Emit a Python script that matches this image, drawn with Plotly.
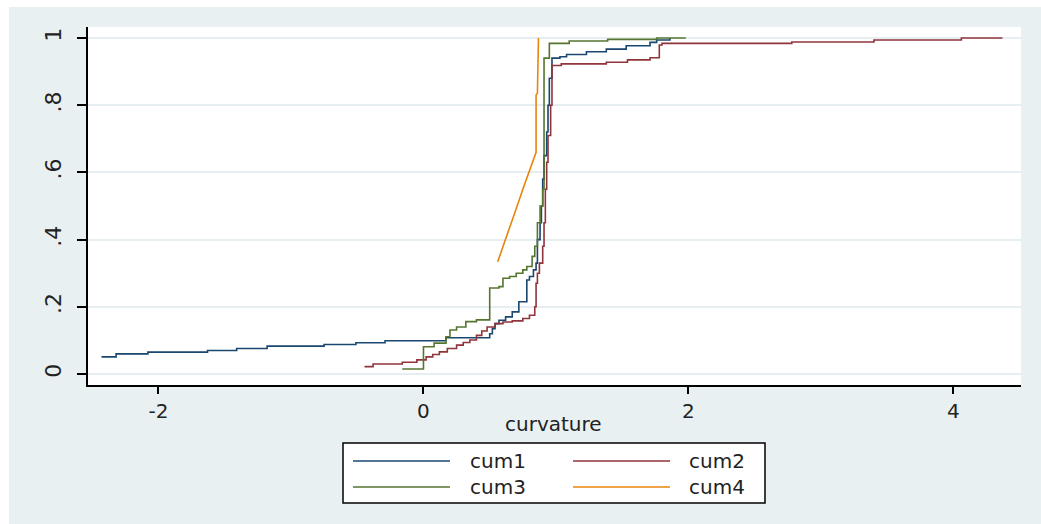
import plotly.graph_objects as go

# ---------------- data ----------------
series_names = ["cum1", "cum2", "cum3", "cum4"]
series_colors = ["#1a476f", "#90353b", "#55752f", "#e8850c"]

cum1_x = [-2.43, -2.32, -2.08, -1.63, -1.41, -1.18, -0.75, -0.51, -0.29, 0.17, 0.50,
          0.52, 0.54, 0.57, 0.62, 0.67, 0.72, 0.78, 0.80, 0.83, 0.85, 0.86, 0.88, 0.89,
          0.90, 0.91, 0.93, 0.94, 0.95, 0.97, 1.03, 1.08, 1.23, 1.38, 1.53, 1.71, 1.76, 1.86]
cum1_y = [0.051, 0.060, 0.065, 0.070, 0.076, 0.083, 0.088, 0.093, 0.099, 0.108, 0.120,
          0.135, 0.150, 0.160, 0.170, 0.185, 0.215, 0.280, 0.290, 0.310, 0.330, 0.400, 0.450, 0.500,
          0.580, 0.650, 0.720, 0.800, 0.880, 0.940, 0.944, 0.951, 0.959, 0.967, 0.977, 0.987, 0.994, 1.000]

cum2_x = [-0.445, -0.38, -0.16, -0.05, 0.02, 0.07, 0.12, 0.18, 0.25, 0.30, 0.35, 0.40, 0.44,
          0.48, 0.54, 0.60, 0.67, 0.75, 0.80, 0.84, 0.85, 0.86, 0.875, 0.90, 0.91, 0.92, 0.93,
          0.94, 0.96, 0.97, 1.04, 1.38, 1.54, 1.71, 1.78, 1.80, 2.78, 3.40, 4.06, 4.37]
cum2_y = [0.022, 0.030, 0.035, 0.042, 0.051, 0.058, 0.066, 0.076, 0.086, 0.094, 0.101, 0.115, 0.128,
          0.140, 0.150, 0.155, 0.158, 0.165, 0.175, 0.200, 0.270, 0.300, 0.330, 0.380, 0.450, 0.550, 0.630,
          0.710, 0.800, 0.918, 0.923, 0.928, 0.935, 0.941, 0.979, 0.984, 0.988, 0.994, 1.000, 1.000]

cum3_x = [-0.16, 0.0, 0.08, 0.17, 0.20, 0.25, 0.32, 0.40, 0.50, 0.57, 0.60, 0.65, 0.70, 0.75,
          0.78, 0.82, 0.84, 0.86, 0.88, 0.90, 0.91, 0.95, 1.10, 1.39, 1.76, 1.98]
cum3_y = [0.015, 0.081, 0.092, 0.111, 0.131, 0.140, 0.156, 0.161, 0.256, 0.260, 0.285, 0.290, 0.300, 0.310,
          0.320, 0.350, 0.380, 0.450, 0.500, 0.550, 0.940, 0.984, 0.991, 0.996, 1.000, 1.000]

cum4_x = [0.56, 0.61, 0.65, 0.70, 0.75, 0.80, 0.843, 0.85, 0.85, 0.86, 0.868]
cum4_y = [0.334, 0.389, 0.436, 0.492, 0.550, 0.608, 0.657, 0.660, 0.830, 0.835, 1.000]

x_tick_vals = [-2, 0, 2, 4]
x_tick_text = ["-2", "0", "2", "4"]
y_tick_vals = [0, 0.2, 0.4, 0.6, 0.8, 1]
y_tick_text = ["0", ".2", ".4", ".6", ".8", "1"]
x_title = "curvature"

# ---------------- figure ----------------
W, H = 1041, 524
ML, MR, MT, MB = 88, 20, 27, 139
PW, PH = W - ML - MR, H - MT - MB


def px(xp):
    return (xp - ML) / PW


def py(yp):
    return (H - MB - yp) / PH


fig = go.Figure()
xs = [cum1_x, cum2_x, cum3_x, cum4_x]
ys = [cum1_y, cum2_y, cum3_y, cum4_y]
shapes_ = ["hv", "hv", "hv", "linear"]
for name, col, x, y, shp in zip(series_names, series_colors, xs, ys, shapes_):
    fig.add_trace(go.Scatter(x=x, y=y, mode="lines", name=name, showlegend=False,
                             line=dict(color=col, width=1.6, shape=shp)))

bg = "#e9f0f2"
txt = "#222"
shapes = [
    dict(type="rect", xref="paper", yref="paper", x0=px(9), x1=px(W + 5), y0=py(H + 5), y1=py(7),
         fillcolor=bg, line=dict(width=0), layer="below"),
    dict(type="rect", xref="paper", yref="paper", x0=0, x1=1, y0=0, y1=1,
         fillcolor="white", line=dict(width=0), layer="below"),
    # legend box
    dict(type="rect", xref="paper", yref="paper", x0=px(343), x1=px(765), y0=py(503), y1=py(443),
         fillcolor="white", line=dict(color="black", width=1.5), layer="above"),
]
annotations = [
    dict(text=x_title, xref="paper", yref="paper", x=px(553), y=py(424),
         xanchor="center", yanchor="middle", showarrow=False,
         font=dict(family="DejaVu Sans", size=20, color=txt)),
]
leg_pos = [(353, 450, 468, 461), (573, 670, 687, 461), (353, 450, 468, 487), (573, 670, 687, 487)]
for name, col, (l0, l1, tx, ty) in zip(series_names, series_colors, leg_pos):
    shapes.append(dict(type="line", xref="paper", yref="paper", x0=px(l0), x1=px(l1),
                       y0=py(ty), y1=py(ty), line=dict(color=col, width=1.6), layer="above"))
    annotations.append(dict(text=name, xref="paper", yref="paper", x=px(tx), y=py(ty),
                            xanchor="left", yanchor="middle", showarrow=False,
                            font=dict(family="DejaVu Sans", size=20, color=txt)))

fig.update_layout(
    width=W, height=H, autosize=False,
    margin=dict(l=ML, r=MR, t=MT, b=MB, pad=0),
    paper_bgcolor="white", plot_bgcolor="white",
    shapes=shapes, annotations=annotations,
    xaxis=dict(range=[-2.532, 4.510], showline=True, linecolor="black", linewidth=1.5,
               ticks="outside", ticklen=7, tickwidth=1.5, tickcolor="black",
               showgrid=False, zeroline=False, tickvals=x_tick_vals, ticktext=x_tick_text,
               tickfont=dict(family="DejaVu Sans", size=20, color=txt)),
    yaxis=dict(range=[-0.0327, 1.0327], showline=True, linecolor="black", linewidth=1.5,
               ticks="outside", ticklen=9, tickwidth=1.5, tickcolor="black",
               showgrid=True, gridcolor="#e6eef1", gridwidth=1.5, zeroline=False,
               tickvals=y_tick_vals, ticktext=y_tick_text, tickangle=-90, ticklabelstandoff=7,
               tickfont=dict(family="DejaVu Sans", size=22, color=txt)),
)

fig.write_html("out.html")
